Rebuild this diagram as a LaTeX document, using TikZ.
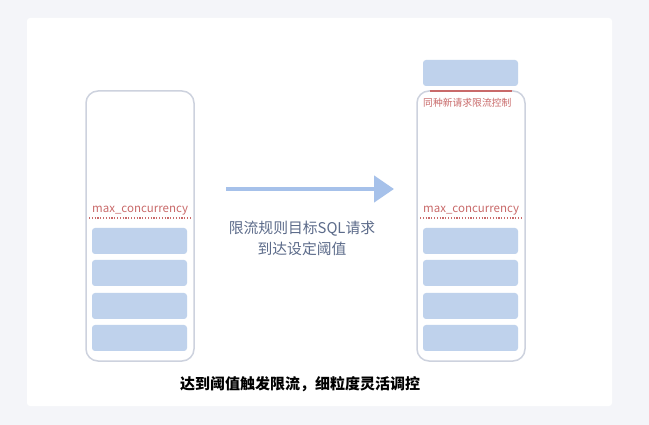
\documentclass[tikz,border=0pt]{standalone}
\usepackage{fontspec}
\setmainfont{Noto Sans CJK SC}
\usetikzlibrary{arrows.meta}
\definecolor{pagegray}{HTML}{F4F5F9}
\definecolor{slotblue}{HTML}{BFD2EC}
\definecolor{arrowblue}{HTML}{A6C1EA}
\definecolor{wallgray}{HTML}{CDD2DE}
\definecolor{limitred}{HTML}{C96A6A}
\definecolor{labelgray}{HTML}{5C6B8A}
\tikzset{
    slot/.style={fill=slotblue, rounded corners=3pt},
    tube/.style={draw=wallgray, line width=1.5pt, rounded corners=12pt},
    limit/.style={draw=limitred, line width=1.2pt, dash pattern=on 1.2pt off 1.6pt},
}
\begin{document}
\begin{tikzpicture}[x=1pt,y=-1pt]
\fill[pagegray] (0,0) rectangle (649,425);
\fill[white, rounded corners=3pt] (27,18) rectangle (612,406);

% left queue
\draw[tube] (86,91) rectangle (194,361);
\foreach \y in {228,260,293,325}
    \fill[slot] (92,\y) rectangle (187,\y+26);
\draw[limit] (89,218) -- (191,218);
\node[text=limitred, font=\fontsize{11.5}{13}\selectfont, anchor=south west, inner sep=1pt] (lmax) at (91,216) {max\_concurrency};

% right queue
\draw[tube] (417,91) rectangle (525,361);
\foreach \y in {228,260,293,325}
    \fill[slot] (423,\y) rectangle (518,\y+26);
\draw[limit] (420,218) -- (522,218);
\node[text=limitred, font=\fontsize{11.5}{13}\selectfont, anchor=south west, inner sep=1pt] (rmax) at (422,216) {max\_concurrency};
\fill[slot] (423,60) rectangle (518,86);
\draw[limitred, line width=1.5pt] (430,91) -- (512,91);
\node[text=limitred, font=\fontsize{9.8}{11}\selectfont, anchor=west, inner sep=0pt] (newreq) at (423,103) {同种新请求限流控制};

% arrow
\coordinate (from) at (226,189);
\coordinate (to) at (394,189);
\draw[arrowblue, line width=4.5pt, -{Triangle[length=20pt,width=26pt]}] (from) -- (to);
\node[text=labelgray, font=\fontsize{14.8}{21}\selectfont, align=center] (rule) at (302,238) {限流规则目标SQL请求\\到达设定阈值};

\node[font=\bfseries\fontsize{15}{17}\selectfont] (caption) at (300,384) {达到阈值触发限流，细粒度灵活调控};
\end{tikzpicture}
\end{document}
